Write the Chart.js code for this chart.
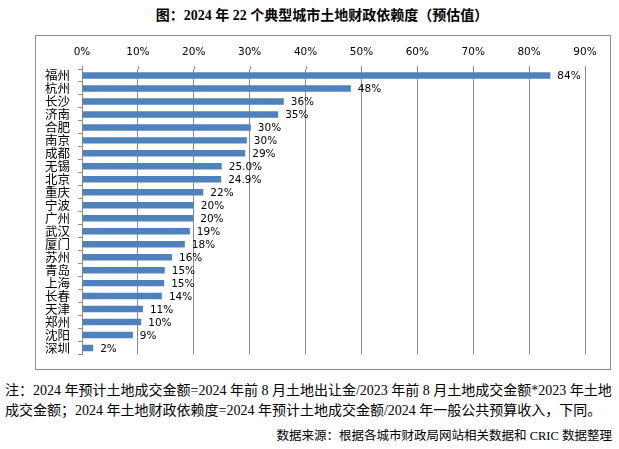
<!DOCTYPE html>
<html>
<head>
<meta charset="utf-8">
<script src="https://cdn.jsdelivr.net/npm/chart.js@4/dist/chart.umd.min.js"></script>
<style>
  html, body { margin: 0; padding: 0; background: #fff; }
  #page { position: relative; width: 619px; height: 449px; overflow: hidden; }
  #title { position: absolute; left: 0; top: 5px; width: 644px; text-align: center;
    font: bold 14px "Liberation Serif", "Noto Sans CJK SC", serif; line-height: 22px; color: #000; white-space: nowrap; }
  #frame { position: absolute; left: 35px; top: 35px; width: 576px; height: 335px; box-sizing: border-box;
    border: 1px solid #8c8c8c; pointer-events: none; }
  #cv { position: absolute; left: 35px; top: 35px; }
  .note { position: absolute; left: 5px; font: 14px "Liberation Serif", "Noto Sans CJK SC", serif; line-height: 20px; color: #000; white-space: nowrap; }
  #src { position: absolute; right: 7px; top: 426px; font: 12.5px "Liberation Serif", "Noto Sans CJK SC", serif; line-height: 20px; color: #000; white-space: nowrap; }
</style>
</head>
<body>
<div id="page">
  <div id="title">图：2024 年 22 个典型城市土地财政依赖度（预估值）</div>
  <canvas id="cv" width="576" height="335"></canvas>
  <div id="frame"></div>
  <div class="note" style="top:381px">注：2024 年预计土地成交金额=2024 年前 8 月土地出让金/2023 年前 8 月土地成交金额*2023 年土地</div>
  <div class="note" style="top:401px">成交金额；2024 年土地财政依赖度=2024 年预计土地成交金额/2024 年一般公共预算收入，下同。</div>
  <div id="src">数据来源：根据各城市财政局网站相关数据和 CRIC 数据整理</div>
</div>
<script>
const cities = ['福州','杭州','长沙','济南','合肥','南京','成都','无锡','北京','重庆','宁波','广州','武汉','厦门','苏州','青岛','上海','长春','天津','郑州','沈阳','深圳'];
const dependency = [83.8, 48.1, 36.1, 35.1, 30.2, 29.5, 29.2, 25.0, 24.9, 21.7, 20.0, 19.9, 19.3, 18.4, 16.1, 14.8, 14.7, 14.3, 10.9, 10.6, 9.1, 2.0];
const valueLabels = ['84%','48%','36%','35%','30%','30%','29%','25.0%','24.9%','22%','20%','20%','19%','18%','16%','15%','15%','14%','11%','10%','9%','2%'];
const xTickLabels = ['0%','10%','20%','30%','40%','50%','60%','70%','80%','90%'];

const labelPlugin = {
  id: 'barLabels',
  beforeDatasetsDraw(chart) {
    // short extension of the vertical gridlines above the plot, as in the reference
    const ctx = chart.ctx;
    const xs = chart.scales.x;
    const top = chart.chartArea.top;
    ctx.save();
    ctx.strokeStyle = '#8c8c8c';
    ctx.lineWidth = 1;
    xs.ticks.forEach(t => {
      const px = Math.round(xs.getPixelForValue(t.value)) + 0.5;
      ctx.beginPath();
      ctx.moveTo(px, top - 3);
      ctx.lineTo(px, top);
      ctx.stroke();
    });
    ctx.restore();
  },
  afterDatasetsDraw(chart) {
    const ctx = chart.ctx;
    const meta = chart.getDatasetMeta(0);
    ctx.save();
    ctx.font = '10.5px "DejaVu Sans", sans-serif';
    ctx.fillStyle = '#000';
    ctx.textAlign = 'left';
    ctx.textBaseline = 'middle';
    meta.data.forEach((bar, i) => {
      ctx.fillText(valueLabels[i], bar.x + 7, bar.y + 1);
    });
    ctx.restore();
  }
};

new Chart(document.getElementById('cv'), {
  type: 'bar',
  data: {
    labels: cities,
    datasets: [{
      data: dependency,
      backgroundColor: '#4f81bd',
      borderWidth: 0,
      barPercentage: 0.5,
      categoryPercentage: 1.0
    }]
  },
  options: {
    indexAxis: 'y',
    responsive: false,
    animation: false,
    devicePixelRatio: 1,
    layout: { padding: { left: 0, right: 26, top: 0, bottom: 15 } },
    plugins: { legend: { display: false }, tooltip: { enabled: false } },
    scales: {
      x: {
        position: 'top',
        min: 0, max: 90,
        afterFit(scale) { scale.height = 34; },
        ticks: {
          stepSize: 10,
          padding: 10,
          color: '#000',
          font: { family: '"DejaVu Sans", sans-serif', size: 10.5 },
          callback: (v, i) => xTickLabels[i]
        },
        grid: { color: '#8c8c8c', lineWidth: 1, drawTicks: false },
        border: { display: false }
      },
      y: {
        afterFit(scale) { scale.width = 47; },
        ticks: {
          padding: 8,
          color: '#000',
          font: { family: '"Noto Sans CJK SC", sans-serif', size: 12.5 },
          autoSkip: false
        },
        grid: { drawOnChartArea: false, drawTicks: true, tickLength: 4, color: '#8c8c8c', offset: true },
        border: { display: true, color: '#8c8c8c', width: 1 }
      }
    }
  },
  plugins: [labelPlugin]
});
</script>
</body>
</html>
